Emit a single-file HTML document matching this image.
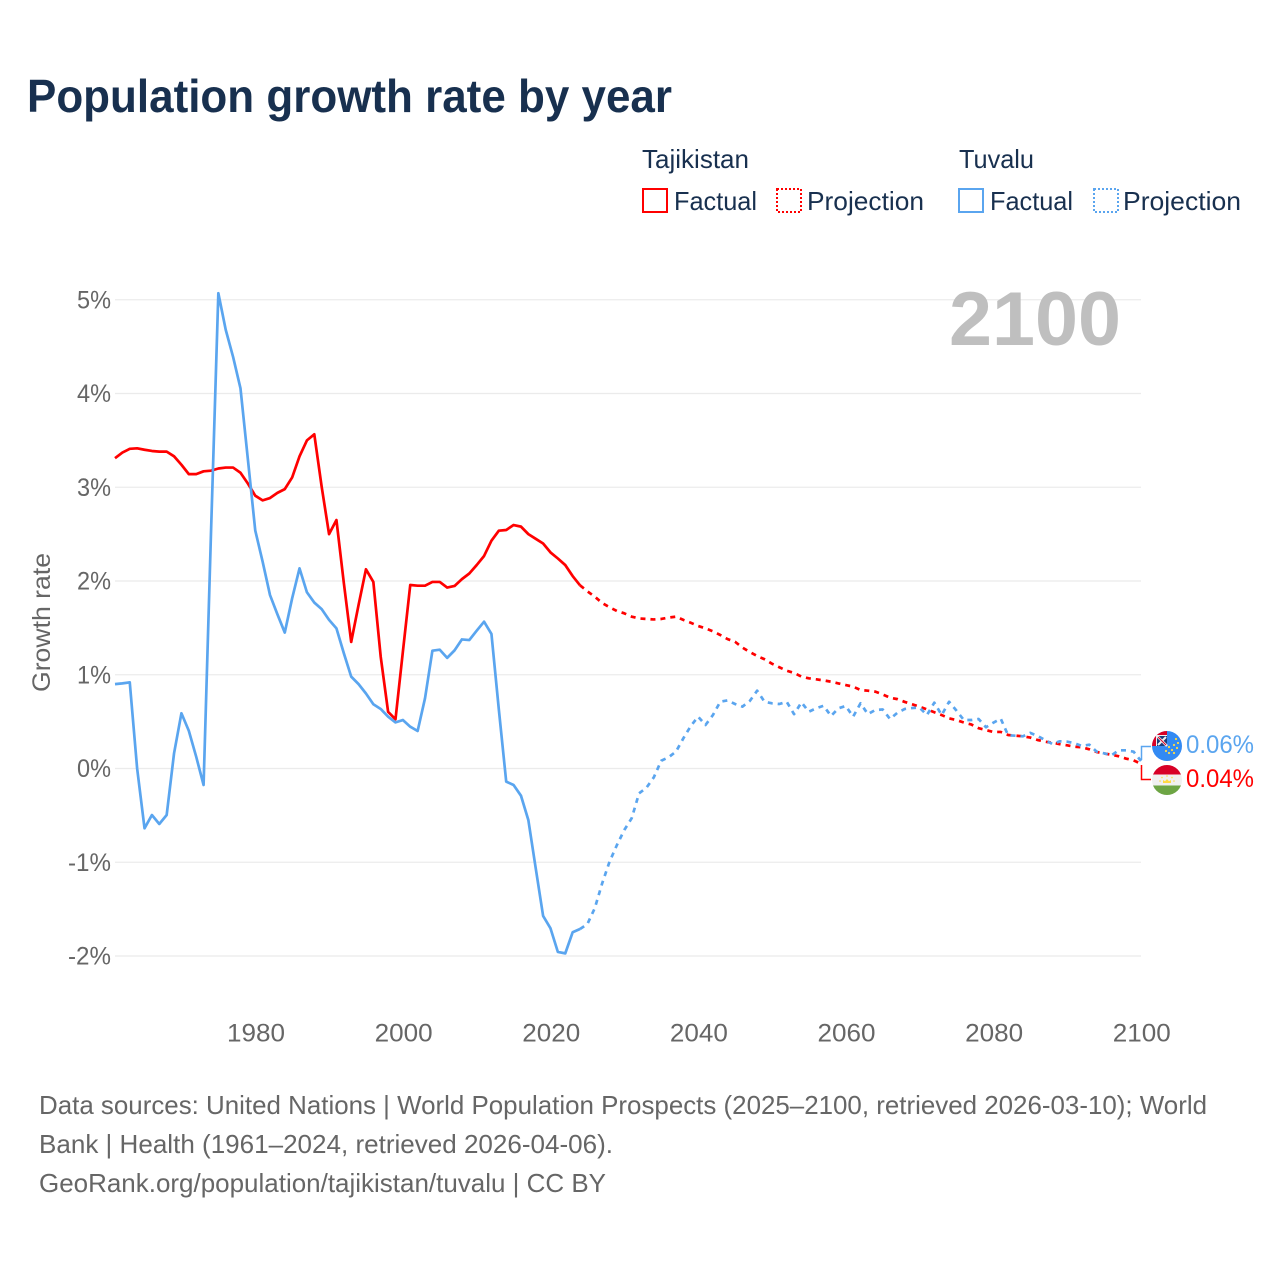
<!DOCTYPE html>
<html lang="en">
<head>
<meta charset="utf-8">
<title>Population growth rate by year</title>
<style>
html,body{margin:0;padding:0;background:#fff;}
svg{display:block;font-family:"Liberation Sans",sans-serif;}
</style>
</head>
<body>
<svg id="chart" xmlns="http://www.w3.org/2000/svg" width="1280" height="1280" viewBox="0 0 1280 1280">
  <rect width="1280" height="1280" fill="#fff"/>
  <text x="27" y="112" font-size="46" font-weight="700" fill="#18304f" textLength="645" lengthAdjust="spacingAndGlyphs">Population growth rate by year</text>

  <g font-size="26" fill="#18304f">
    <text x="642" y="168" textLength="107" lengthAdjust="spacingAndGlyphs">Tajikistan</text>
    <text x="959" y="168" textLength="75" lengthAdjust="spacingAndGlyphs">Tuvalu</text>
    <rect x="643" y="189" width="24" height="23" fill="none" stroke="#ff0000" stroke-width="2"/>
    <text x="674" y="210" textLength="83" lengthAdjust="spacingAndGlyphs">Factual</text>
    <rect x="777" y="189" width="24" height="23" fill="none" stroke="#ff0000" stroke-width="2" stroke-dasharray="2 2"/>
    <text x="807" y="210" textLength="117" lengthAdjust="spacingAndGlyphs">Projection</text>
    <rect x="959" y="189" width="24" height="23" fill="none" stroke="#5aa5ef" stroke-width="2"/>
    <text x="990" y="210" textLength="83" lengthAdjust="spacingAndGlyphs">Factual</text>
    <rect x="1094" y="189" width="24" height="23" fill="none" stroke="#5aa5ef" stroke-width="2" stroke-dasharray="2 2"/>
    <text x="1123" y="210" textLength="118" lengthAdjust="spacingAndGlyphs">Projection</text>
  </g>

  <g id="grid"></g>
  <g id="yticks"></g>
  <g id="xticks"></g>
  <text transform="translate(50,622.5) rotate(-90)" text-anchor="middle" font-size="25" fill="#666" textLength="139" lengthAdjust="spacingAndGlyphs">Growth rate</text>
  <text x="949" y="345" font-size="76" font-weight="700" fill="#bfbfbf" textLength="172" lengthAdjust="spacingAndGlyphs">2100</text>
  <g id="series"></g>

  <path d="M1141.5 760V746.5H1151" fill="none" stroke="#5aa5ef" stroke-width="1.5"/>
  <path d="M1141.5 765V779.5H1151" fill="none" stroke="#ff0000" stroke-width="1.5"/>

  <defs>
    <clipPath id="clip-tv"><circle cx="1167" cy="746" r="15"/></clipPath>
    <clipPath id="clip-tj"><circle cx="1167" cy="780" r="15"/></clipPath>
  </defs>
  <g clip-path="url(#clip-tv)">
    <rect x="1152" y="731" width="30" height="30" fill="#338af3"/>
    <rect x="1152" y="731" width="15" height="15" fill="#f0f0f0"/>
    <path d="M1157 736h10v10h-10z" fill="#1a3a7a"/>
    <path d="M1152 731h15v4h-11v11h-4z" fill="#d80027"/>
    <path d="M1157 736l10 10" stroke="#f0f0f0" stroke-width="2.6"/>
    <path d="M1158 745l8-8" stroke="#f0f0f0" stroke-width="2"/>
    <path d="M1158 737l8 8" stroke="#d80027" stroke-width="1"/>
    <g fill="#ffda44">
      <circle cx="1176" cy="739" r="1.1"/><circle cx="1178" cy="743" r="1.1"/><circle cx="1174" cy="745" r="1.1"/>
      <circle cx="1177" cy="748" r="1.1"/><circle cx="1172" cy="750" r="1.1"/><circle cx="1169" cy="747" r="1.1"/>
      <circle cx="1174" cy="753" r="1.1"/><circle cx="1169" cy="753" r="1.1"/><circle cx="1166" cy="751" r="1.1"/>
    </g>
  </g>
  <g clip-path="url(#clip-tj)">
    <rect x="1152" y="765" width="30" height="30" fill="#f0f0f0"/>
    <rect x="1152" y="765" width="30" height="9.5" fill="#d80027"/>
    <rect x="1152" y="785.5" width="30" height="9.5" fill="#6da544"/>
    <path d="M1163 783v-3l2 1.2 2-2.2 2 2.2 2-1.2v3z" fill="#ffda44"/>
    <g fill="#ffda44"><circle cx="1160" cy="781" r=".8"/><circle cx="1174" cy="781" r=".8"/><circle cx="1162" cy="777.5" r=".8"/><circle cx="1172" cy="777.5" r=".8"/><circle cx="1167" cy="776" r=".8"/></g>
  </g>
  <text x="1186" y="753" font-size="25" fill="#5aa5ef" textLength="68" lengthAdjust="spacingAndGlyphs">0.06%</text>
  <text x="1186" y="787" font-size="25" fill="#ff0000" textLength="68" lengthAdjust="spacingAndGlyphs">0.04%</text>

  <g font-size="26" fill="#666">
    <text x="39" y="1114" textLength="1168" lengthAdjust="spacingAndGlyphs">Data sources: United Nations | World Population Prospects (2025–2100, retrieved 2026-03-10); World</text>
    <text x="39" y="1153" textLength="574" lengthAdjust="spacingAndGlyphs">Bank | Health (1961–2024, retrieved 2026-04-06).</text>
    <text x="39" y="1192" textLength="567" lengthAdjust="spacingAndGlyphs">GeoRank.org/population/tajikistan/tuvalu | CC BY</text>
  </g>
</svg>

<script>
const firstYear = 1961;
const lastFactualYear = 2024;
const yTickValues = [5, 4, 3, 2, 1, 0, -1, -2];
const yTickLabels = ["5%", "4%", "3%", "2%", "1%", "0%", "-1%", "-2%"];
const xTickYears = [1980, 2000, 2020, 2040, 2060, 2080, 2100];

const tajikistanFactual = [3.31,3.37,3.41,3.415,3.40,3.387,3.38,3.38,3.33,3.24,3.14,3.14,3.17,3.177,3.20,3.21,3.21,3.155,3.04,2.91,2.86,2.885,2.94,2.98,3.105,3.33,3.50,3.565,3.005,2.50,2.65,1.98,1.35,1.745,2.125,1.99,1.19,0.605,0.525,1.245,1.957,1.95,1.95,1.99,1.99,1.93,1.947,2.02,2.08,2.17,2.267,2.43,2.537,2.544,2.597,2.58,2.50,2.45,2.40,2.305,2.24,2.17,2.053,1.954];
const tajikistanProjection = [1.89,1.833,1.765,1.72,1.68,1.655,1.62,1.60,1.595,1.59,1.595,1.61,1.62,1.585,1.555,1.52,1.495,1.463,1.424,1.38,1.352,1.29,1.243,1.20,1.165,1.118,1.08,1.043,1.019,0.98,0.962,0.951,0.94,0.926,0.908,0.89,0.873,0.837,0.83,0.82,0.79,0.755,0.74,0.71,0.685,0.66,0.63,0.60,0.57,0.535,0.517,0.49,0.47,0.43,0.41,0.39,0.39,0.357,0.35,0.343,0.33,0.304,0.286,0.275,0.26,0.247,0.232,0.226,0.205,0.176,0.16,0.147,0.13,0.105,0.087,0.05];
const tuvaluFactual = [0.90,0.908,0.919,0.00,-0.638,-0.496,-0.592,-0.496,0.162,0.589,0.403,0.126,-0.176,2.5,5.07,4.68,4.39,4.055,3.3,2.54,2.206,1.85,1.645,1.45,1.815,2.135,1.88,1.77,1.70,1.585,1.495,1.23,0.98,0.90,0.80,0.685,0.635,0.553,0.492,0.517,0.446,0.40,0.749,1.257,1.267,1.18,1.26,1.377,1.37,1.47,1.566,1.435,0.63,-0.14,-0.176,-0.29,-0.55,-1.065,-1.573,-1.705,-1.957,-1.972,-1.747,-1.712];
const tuvaluProjection = [-1.659,-1.49,-1.225,-0.994,-0.816,-0.656,-0.53,-0.265,-0.205,-0.094,0.083,0.12,0.18,0.322,0.453,0.553,0.464,0.57,0.712,0.727,0.688,0.66,0.72,0.83,0.712,0.695,0.688,0.712,0.58,0.705,0.606,0.642,0.67,0.56,0.642,0.667,0.553,0.695,0.58,0.624,0.63,0.528,0.595,0.635,0.645,0.649,0.57,0.702,0.57,0.712,0.617,0.517,0.517,0.528,0.44,0.489,0.531,0.354,0.35,0.343,0.38,0.347,0.304,0.261,0.29,0.286,0.269,0.24,0.254,0.179,0.162,0.141,0.194,0.194,0.179,0.08];

const SVG_NS = "http://www.w3.org/2000/svg";
const RED = "#ff0000";
const BLUE = "#5aa5ef";

function xScale(year) { return 115 + (year - 1961) * (1141 - 115) / (2100 - 1961); }
function yScale(value) { return 768.5 - value * 93.75; }

const gridGroup = document.getElementById("grid");
const yTickGroup = document.getElementById("yticks");
const xTickGroup = document.getElementById("xticks");
const seriesGroup = document.getElementById("series");

yTickValues.forEach(function (value, i) {
  const line = document.createElementNS(SVG_NS, "line");
  
  
  line.setAttribute("x1", 115);
  line.setAttribute("x2", 1141);
  line.setAttribute("y1", yScale(value));
  line.setAttribute("y2", yScale(value));
  line.setAttribute("stroke", "#ebebeb");
  line.setAttribute("stroke-width", "1.2");
  gridGroup.appendChild(line);

  const label = document.createElementNS(SVG_NS, "text");
  
  
  label.setAttribute("x", 111);
  label.setAttribute("y", yScale(value) + 8.5);
  label.setAttribute("text-anchor", "end");
  label.setAttribute("font-size", "25");
  label.setAttribute("fill", "#666");
  label.setAttribute("textLength", yTickLabels[i].length === 2 ? 34 : 43);
  label.setAttribute("lengthAdjust", "spacingAndGlyphs");
  label.textContent = yTickLabels[i];
  yTickGroup.appendChild(label);
});

xTickYears.forEach(function (year) {
  const label = document.createElementNS(SVG_NS, "text");
  
  
  label.setAttribute("x", xScale(year) + 0.8);
  label.setAttribute("y", 1041.5);
  label.setAttribute("text-anchor", "middle");
  label.setAttribute("font-size", "25");
  label.setAttribute("fill", "#666");
  label.setAttribute("textLength", 58);
  label.setAttribute("lengthAdjust", "spacingAndGlyphs");
  label.textContent = String(year);
  xTickGroup.appendChild(label);
});

function buildPoints(values, startYear) {
  return values.map(function (v, i) {
    return xScale(startYear + i).toFixed(2) + "," + yScale(v).toFixed(2);
  });
}

function drawSeries(points, color, dashed) {
  const poly = document.createElementNS(SVG_NS, "polyline");
  
  
  poly.setAttribute("points", points.join(" "));
  poly.setAttribute("fill", "none");
  poly.setAttribute("stroke", color);
  poly.setAttribute("stroke-width", "2.7");
  poly.setAttribute("stroke-linejoin", "round");
  if (dashed) poly.setAttribute("stroke-dasharray", "5 5");
  seriesGroup.appendChild(poly);
}

const tvFactualPts = buildPoints(tuvaluFactual, firstYear);
const tvProjectionPts = buildPoints(tuvaluProjection, lastFactualYear + 1);
const tjFactualPts = buildPoints(tajikistanFactual, firstYear);
const tjProjectionPts = buildPoints(tajikistanProjection, lastFactualYear + 1);

drawSeries(tjFactualPts, RED, false);
drawSeries([tjFactualPts[tjFactualPts.length - 1]].concat(tjProjectionPts), RED, true);
drawSeries(tvFactualPts, BLUE, false);
drawSeries([tvFactualPts[tvFactualPts.length - 1]].concat(tvProjectionPts), BLUE, true);
</script>
</body>
</html>
